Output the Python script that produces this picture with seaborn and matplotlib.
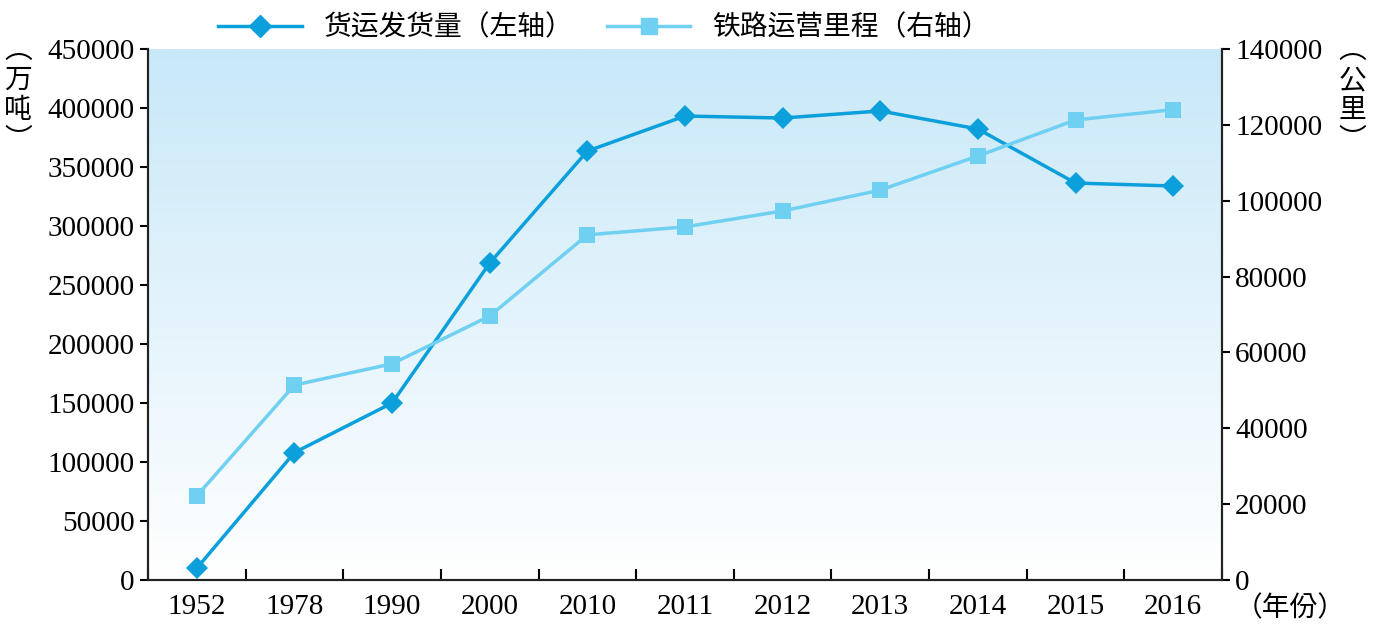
import matplotlib
matplotlib.use("Agg")
import matplotlib.pyplot as plt
import seaborn as sns
import numpy as np
import pandas as pd
from matplotlib.colors import LinearSegmentedColormap
from matplotlib.lines import Line2D

years = ["1952", "1978", "1990", "2000", "2010", "2011", "2012", "2013", "2014", "2015", "2016"]
freight = [10000, 108000, 150000, 268600, 363500, 393200, 391500, 397500, 382200, 336400, 333900]
mileage = [22200, 51400, 57000, 69600, 91000, 93100, 97300, 102800, 111800, 121300, 124000]
left_ticks = list(range(0, 450001, 50000))
right_ticks = list(range(0, 140001, 20000))

serif = "Liberation Serif"
cjk = ["Noto Sans CJK SC", "Noto Sans CJK JP", "Noto Sans CJK TC", "Noto Sans CJK KR", "DejaVu Sans"]
c1, c2 = "#0ba0dc", "#6fd0f2"

df = pd.DataFrame({"x": np.arange(len(years)), "freight": freight, "mileage": mileage})

fig = plt.figure(figsize=(13.73, 6.34), dpi=100)
ax = fig.add_axes([148/1373, 1-580/634, (1222-148)/1373, (580-49)/634])
ax2 = ax.twinx()

cmap = LinearSegmentedColormap.from_list("bg", ["#ffffff", "#c8e8f8"])
grad = np.linspace(0, 1, 256).reshape(-1, 1)
ax.imshow(grad, aspect="auto", cmap=cmap, origin="lower", extent=[0, 1, 0, 1],
          transform=ax.transAxes, zorder=0)

sns.lineplot(data=df, x="x", y="freight", ax=ax, color=c1, marker="D", markersize=11,
             markeredgewidth=0, linewidth=2.5, zorder=3)
sns.lineplot(data=df, x="x", y="mileage", ax=ax2, color=c2, marker="s", markersize=11,
             markeredgewidth=0, linewidth=2.5, zorder=3)

ax.set_xlim(-0.5, len(years) - 0.5)
ax.set_ylim(0, 450000)
ax2.set_ylim(0, 140000)
ax.set_xticks(np.arange(len(years)))
ax.set_xticklabels(years, fontfamily=serif, fontsize=21)
ax.set_xticks(np.arange(len(years) + 1) - 0.5, minor=True)
ax.tick_params(axis="x", which="major", length=0, pad=10)
ax.tick_params(axis="x", which="minor", length=8, direction="in", width=1.5)
ax.set_yticks(left_ticks)
ax.set_yticklabels([str(v) for v in left_ticks], fontfamily=serif, fontsize=21)
ax2.set_yticks(right_ticks)
ax2.set_yticklabels([str(v) for v in right_ticks], fontfamily=serif, fontsize=21)
ax.tick_params(axis="y", length=6, width=1.5)
ax2.tick_params(axis="y", length=6, width=1.5)
for a in (ax, ax2):
    a.set_xlabel("")
    a.set_ylabel("")
    for s in a.spines.values():
        s.set_linewidth(1.5)
        s.set_color("#222222")
ax.spines["top"].set_visible(False)
ax2.spines["top"].set_visible(False)

fig.text(18/1373, 1-95/634, "︵\n万\n吨\n︶", fontfamily=cjk, fontsize=20, ha="center",
         va="center", linespacing=1.0)
fig.text(1352/1373, 1-95/634, "︵\n公\n里\n︶", fontfamily=cjk, fontsize=20, ha="center",
         va="center", linespacing=1.0)
fig.text(1290/1373, 1-608/634, "（年份）", fontfamily=cjk, fontsize=20, ha="center", va="center")

handles = [Line2D([], [], color=c1, marker="D", markersize=11, linewidth=2.5),
           Line2D([], [], color=c2, marker="s", markersize=11, linewidth=2.5)]
fig.legend(handles, ["货运发货量（左轴）", "铁路运营里程（右轴）"], loc="upper center",
           bbox_to_anchor=(0.44, 1.02), ncol=2, frameon=False,
           prop={"family": cjk, "size": 20}, handlelength=3, columnspacing=1.2)

fig.savefig("out.png", dpi=100)
